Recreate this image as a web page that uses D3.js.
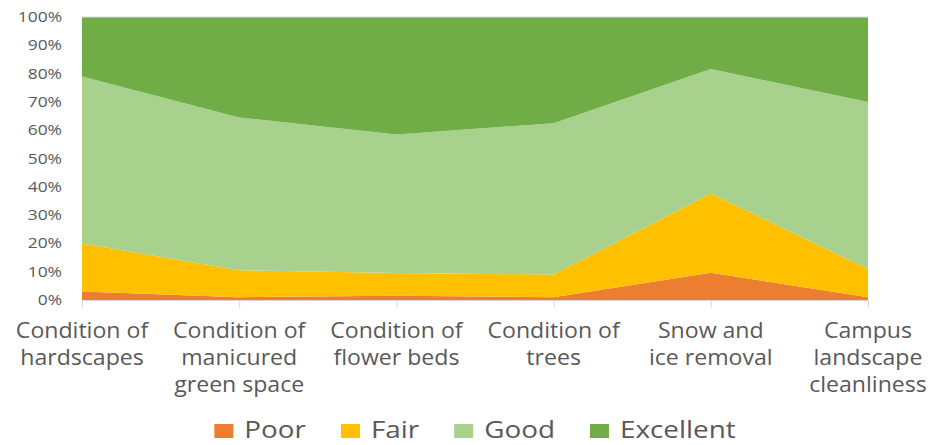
<!DOCTYPE html>
<html>
<head>
<meta charset="utf-8">
<script src="https://cdn.jsdelivr.net/npm/d3@7"></script>
<style>
  body { margin: 0; background: #fff; }
  svg text { font-family: "Open Sans", sans-serif; fill: #595959; }
</style>
</head>
<body>
<svg id="chart" width="938" height="445"></svg>
<script>
// categories (x axis), each label split into lines
const categories = [
  ["Condition of", "hardscapes"],
  ["Condition of", "manicured", "green space"],
  ["Condition of", "flower beds"],
  ["Condition of", "trees"],
  ["Snow and", "ice removal"],
  ["Campus", "landscape", "cleanliness"]
];
const seriesNames = ["Poor", "Fair", "Good", "Excellent"];
const seriesColors = ["#ED7D31", "#FFC000", "#A9D18E", "#70AD47"];

// share of responses per category (%)
const poor      = [3, 1, 1.5, 1, 9.6, 1];
const fair      = [17, 9.5, 8, 8, 28, 10];
const good      = [59, 54, 49, 53.5, 44, 59];
const excellent = [21, 35.5, 41.5, 37.5, 18.4, 30];

const yTicks = [0, 10, 20, 30, 40, 50, 60, 70, 80, 90, 100];

const svg = d3.select("#chart");
const margin = { left: 82, right: 70, top: 17, bottom: 145 };
const W = 938, H = 445;

const x = d3.scalePoint()
  .domain(d3.range(categories.length))
  .range([margin.left, W - margin.right]);
const y = d3.scaleLinear()
  .domain([0, 100])
  .range([H - margin.bottom, margin.top]);

// build rows for d3.stack
const rows = categories.map((c, i) => {
  const total = poor[i] + fair[i] + good[i] + excellent[i];
  return {
    Poor: poor[i] / total * 100,
    Fair: fair[i] / total * 100,
    Good: good[i] / total * 100,
    Excellent: excellent[i] / total * 100
  };
});
const stacked = d3.stack().keys(seriesNames)(rows);

const area = d3.area()
  .x((d, i) => x(i))
  .y0(d => y(d[0]))
  .y1(d => y(d[1]));

svg.append("g")
  .selectAll("path")
  .data(stacked)
  .enter().append("path")
  .attr("d", area)
  .attr("fill", (d, i) => seriesColors[i]);

// light top gridline
svg.append("line")
  .attr("x1", x(0)).attr("x2", x(categories.length - 1))
  .attr("y1", y(100)).attr("y2", y(100))
  .attr("stroke", "#d9d9d9").attr("stroke-width", 1);

// y axis labels
const ax = 1.2;
svg.append("g")
  .selectAll("text")
  .data(yTicks)
  .enter().append("text")
  .attr("transform", d => `translate(62,${y(d) + 5}) scale(${ax},1)`)
  .attr("text-anchor", "end")
  .style("font-size", "14.5px")
  .text(d => d + "%");

// x axis line and ticks
svg.append("line")
  .attr("x1", x(0)).attr("x2", x(categories.length - 1))
  .attr("y1", y(0) + 0.5).attr("y2", y(0) + 0.5)
  .attr("stroke", "#d9d9d9");
svg.append("g")
  .selectAll("line")
  .data(d3.range(categories.length))
  .enter().append("line")
  .attr("x1", d => x(d) + 0.5).attr("x2", d => x(d) + 0.5)
  .attr("y1", y(0)).attr("y2", y(0) + 8)
  .attr("stroke", "#d9d9d9");

// x labels
const xl = svg.append("g")
  .selectAll("g")
  .data(categories)
  .enter().append("g")
  .attr("transform", (d, i) => `translate(${x(i)},0)`);
xl.selectAll("text")
  .data(d => d)
  .enter().append("text")
  .attr("transform", (d, j) => `translate(0,${337.5 + j * 27}) scale(1.1,1)`)
  .attr("text-anchor", "middle")
  .style("font-size", "21px")
  .text(d => d);

// legend
const legend = svg.append("g");
const ls = 1.16;
let lx = 0;
seriesNames.forEach((name, i) => {
  const g = legend.append("g").attr("transform", `translate(${lx},0)`);
  g.append("rect")
    .attr("x", 0).attr("y", 424)
    .attr("width", 19).attr("height", 14)
    .attr("fill", seriesColors[i]);
  const t = g.append("text")
    .attr("transform", `translate(30,438) scale(${ls},1)`)
    .style("font-size", "24px")
    .text(name);
  const w = t.node().getComputedTextLength() * ls;
  lx += 30 + w + 35;
});
const legendWidth = lx - 35;
const mid = (x(0) + x(categories.length - 1)) / 2;
legend.attr("transform", `translate(${mid - legendWidth / 2},0)`);
</script>
</body>
</html>
